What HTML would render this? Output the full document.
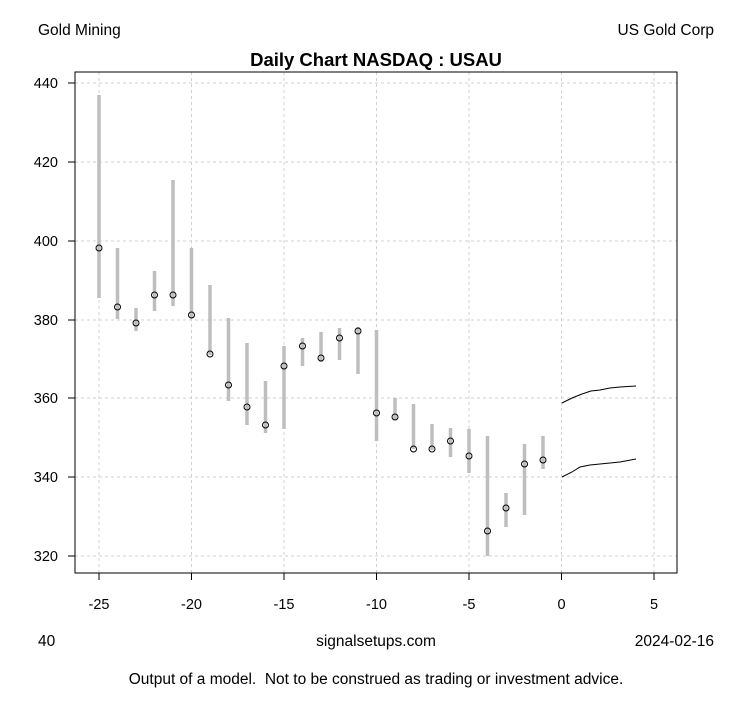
<!DOCTYPE html><html><head><style>body{margin:0;background:#fff}</style></head><body>
<svg width="753" height="708" xmlns="http://www.w3.org/2000/svg" font-family="Liberation Sans, sans-serif">
<rect width="753" height="708" fill="#fff"/>
<g stroke="#d0d0d0" stroke-dasharray="3,3" stroke-width="1">
<line x1="99" y1="72" x2="99" y2="573"/><line x1="191.5" y1="72" x2="191.5" y2="573"/><line x1="284" y1="72" x2="284" y2="573"/><line x1="376.5" y1="72" x2="376.5" y2="573"/><line x1="469" y1="72" x2="469" y2="573"/><line x1="561.5" y1="72" x2="561.5" y2="573"/><line x1="654" y1="72" x2="654" y2="573"/>
<line x1="75" y1="83" x2="677" y2="83"/><line x1="75" y1="162" x2="677" y2="162"/><line x1="75" y1="241" x2="677" y2="241"/><line x1="75" y1="320" x2="677" y2="320"/><line x1="75" y1="398" x2="677" y2="398"/><line x1="75" y1="477" x2="677" y2="477"/><line x1="75" y1="556" x2="677" y2="556"/>
</g>
<rect x="75" y="72" width="602" height="501" fill="none" stroke="#000"/>
<g stroke="#bebebe" stroke-width="3.5">
<line x1="99" y1="95" x2="99" y2="298"/><line x1="117.5" y1="248" x2="117.5" y2="319"/><line x1="136" y1="308" x2="136" y2="331"/><line x1="154.5" y1="271" x2="154.5" y2="311"/><line x1="173" y1="180" x2="173" y2="306"/><line x1="191.5" y1="248" x2="191.5" y2="318"/><line x1="210" y1="285" x2="210" y2="355"/><line x1="228.5" y1="318" x2="228.5" y2="401"/><line x1="247" y1="343" x2="247" y2="425"/><line x1="265.5" y1="381" x2="265.5" y2="433"/><line x1="284" y1="346" x2="284" y2="429"/><line x1="302.5" y1="338" x2="302.5" y2="366"/><line x1="321" y1="332" x2="321" y2="362"/><line x1="339.5" y1="328" x2="339.5" y2="360"/><line x1="358" y1="327" x2="358" y2="374"/><line x1="376.5" y1="330" x2="376.5" y2="441"/><line x1="395" y1="398" x2="395" y2="420"/><line x1="413.5" y1="404" x2="413.5" y2="449"/><line x1="432" y1="424" x2="432" y2="450"/><line x1="450.5" y1="428" x2="450.5" y2="457"/><line x1="469" y1="429" x2="469" y2="473"/><line x1="487.5" y1="436" x2="487.5" y2="556"/><line x1="506" y1="493" x2="506" y2="527"/><line x1="524.5" y1="444" x2="524.5" y2="515"/><line x1="543" y1="436" x2="543" y2="469"/>
</g>
<g fill="none" stroke="#000" stroke-width="1">
<circle cx="99" cy="248" r="3"/><circle cx="117.5" cy="307" r="3"/><circle cx="136" cy="323" r="3"/><circle cx="154.5" cy="295" r="3"/><circle cx="173" cy="295" r="3"/><circle cx="191.5" cy="315" r="3"/><circle cx="210" cy="354" r="3"/><circle cx="228.5" cy="385" r="3"/><circle cx="247" cy="407" r="3"/><circle cx="265.5" cy="425" r="3"/><circle cx="284" cy="366" r="3"/><circle cx="302.5" cy="346" r="3"/><circle cx="321" cy="358" r="3"/><circle cx="339.5" cy="338" r="3"/><circle cx="358" cy="331" r="3"/><circle cx="376.5" cy="413" r="3"/><circle cx="395" cy="417" r="3"/><circle cx="413.5" cy="449" r="3"/><circle cx="432" cy="449" r="3"/><circle cx="450.5" cy="441" r="3"/><circle cx="469" cy="456" r="3"/><circle cx="487.5" cy="531" r="3"/><circle cx="506" cy="508" r="3"/><circle cx="524.5" cy="464" r="3"/><circle cx="543" cy="460" r="3"/>
<polyline points="562,403 572,398 582,394 591,391 600,390 610,388 620,387 636,386"/>
<polyline points="562,477 572,472 580,467 590,465 600,464 620,462 636,459"/>
</g>
<g stroke="#000"><line x1="99" y1="573" x2="99" y2="580"/><line x1="191.5" y1="573" x2="191.5" y2="580"/><line x1="284" y1="573" x2="284" y2="580"/><line x1="376.5" y1="573" x2="376.5" y2="580"/><line x1="469" y1="573" x2="469" y2="580"/><line x1="561.5" y1="573" x2="561.5" y2="580"/><line x1="654" y1="573" x2="654" y2="580"/>
<line x1="68" y1="83" x2="75" y2="83"/><line x1="68" y1="162" x2="75" y2="162"/><line x1="68" y1="241" x2="75" y2="241"/><line x1="68" y1="320" x2="75" y2="320"/><line x1="68" y1="398" x2="75" y2="398"/><line x1="68" y1="477" x2="75" y2="477"/><line x1="68" y1="556" x2="75" y2="556"/></g>
<g font-size="14.5" text-anchor="middle"><text x="99" y="609">-25</text><text x="191.5" y="609">-20</text><text x="284" y="609">-15</text><text x="376.5" y="609">-10</text><text x="469" y="609">-5</text><text x="561.5" y="609">0</text><text x="654" y="609">5</text></g>
<g font-size="14.5" text-anchor="end"><text x="58" y="88">440</text><text x="58" y="167">420</text><text x="58" y="246">400</text><text x="58" y="325">380</text><text x="58" y="403">360</text><text x="58" y="482">340</text><text x="58" y="561">320</text></g>
<text x="376" y="66" font-size="18.5" font-weight="bold" text-anchor="middle">Daily Chart NASDAQ : USAU</text>
<text x="38" y="35" font-size="15.5">Gold Mining</text>
<text x="714" y="35" font-size="15.5" text-anchor="end">US Gold Corp</text>
<text x="38" y="646" font-size="15.5">40</text>
<text x="376" y="646" font-size="15.5" text-anchor="middle">signalsetups.com</text>
<text x="714" y="646" font-size="15.5" text-anchor="end">2024-02-16</text>
<text x="376" y="684" font-size="15.5" text-anchor="middle" xml:space="preserve">Output of a model.  Not to be construed as trading or investment advice.</text>
</svg></body></html>
